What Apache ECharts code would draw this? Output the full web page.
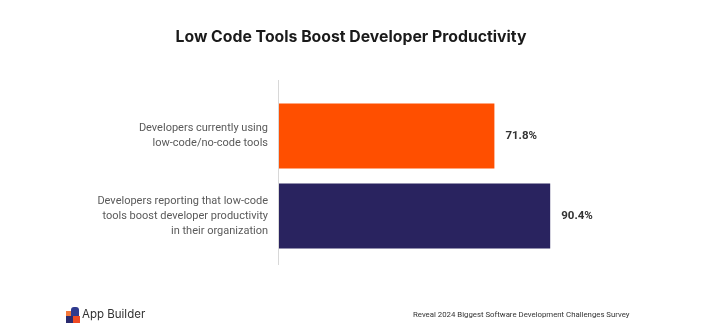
<!DOCTYPE html>
<html>
<head>
<meta charset="utf-8">
<script src="https://cdn.jsdelivr.net/npm/echarts@6/dist/echarts.min.js"></script>
<style>html,body{margin:0;padding:0;background:#fff}#c{width:702px;height:336px}</style>
</head>
<body>
<div id="c"></div>
<script>
const categories = [
  "Developers currently using\nlow-code/no-code tools",
  "Developers reporting that low-code\ntools boost developer productivity\nin their organization"
];
const values = [71.8, 90.4];
const barColors = ["#FF4F00", "#29235F"];
const titleText = "Low Code Tools Boost Developer Productivity";
const sourceText = "Reveal 2024 Biggest Software Development Challenges Survey";
const brandText = "App Builder";

const chart = echarts.init(document.getElementById('c'), null, {renderer: 'canvas'});
chart.setOption({
  backgroundColor: '#ffffff',
  animation: false,
  title: {
    text: titleText,
    left: 346, top: 24, textAlign: 'center',
    textStyle: {fontFamily: 'Inter', fontWeight: 'bold', fontSize: 15.8, color: '#1a1a1a'}
  },
  grid: {left: 279, top: 96, width: 300, height: 160},
  xAxis: {
    type: 'value', min: 0, max: 100, show: false
  },
  yAxis: {
    type: 'category', data: categories, inverse: true,
    axisLine: {show: false}, axisTick: {show: false},
    axisLabel: {margin: 11, fontFamily: 'Roboto', fontSize: 11, lineHeight: 15, color: '#5a5a5a'}
  },
  series: [{
    type: 'bar',
    barWidth: 65,
    data: values.map((v, i) => ({value: v, itemStyle: {color: barColors[i]}})),
    label: {
      show: true, position: 'right', distance: 11,
      formatter: '{c}%',
      fontFamily: 'Roboto', fontWeight: 'bold', fontSize: 11.5, color: '#333'
    }
  }],
  graphic: [
    {type: 'line', shape: {x1: 278.5, y1: 80, x2: 278.5, y2: 265}, style: {stroke: '#d8d8d8', lineWidth: 1}, silent: true},
    {type: 'group', left: 66, top: 307, children: [
      {type: 'rect', shape: {x: 0, y: 4, width: 7, height: 5}, style: {fill: '#F4793A'}},
      {type: 'rect', shape: {x: 5, y: 0, width: 8, height: 9, r: [3,3,0,0]}, style: {fill: '#2F3A8F'}},
      {type: 'rect', shape: {x: 0, y: 9, width: 7, height: 7}, style: {fill: '#2A2A6E'}},
      {type: 'rect', shape: {x: 7, y: 9, width: 7, height: 7}, style: {fill: '#EF4A23'}}
    ]},
    {type: 'text', left: 82, top: 309, style: {text: brandText, fontFamily: 'Inter', fontSize: 11.5, fill: '#333'}},
    {type: 'text', left: 413, top: 311, style: {text: sourceText, fontFamily: 'Roboto', fontSize: 7.8, fill: '#333'}}
  ]
});
</script>
</body>
</html>
